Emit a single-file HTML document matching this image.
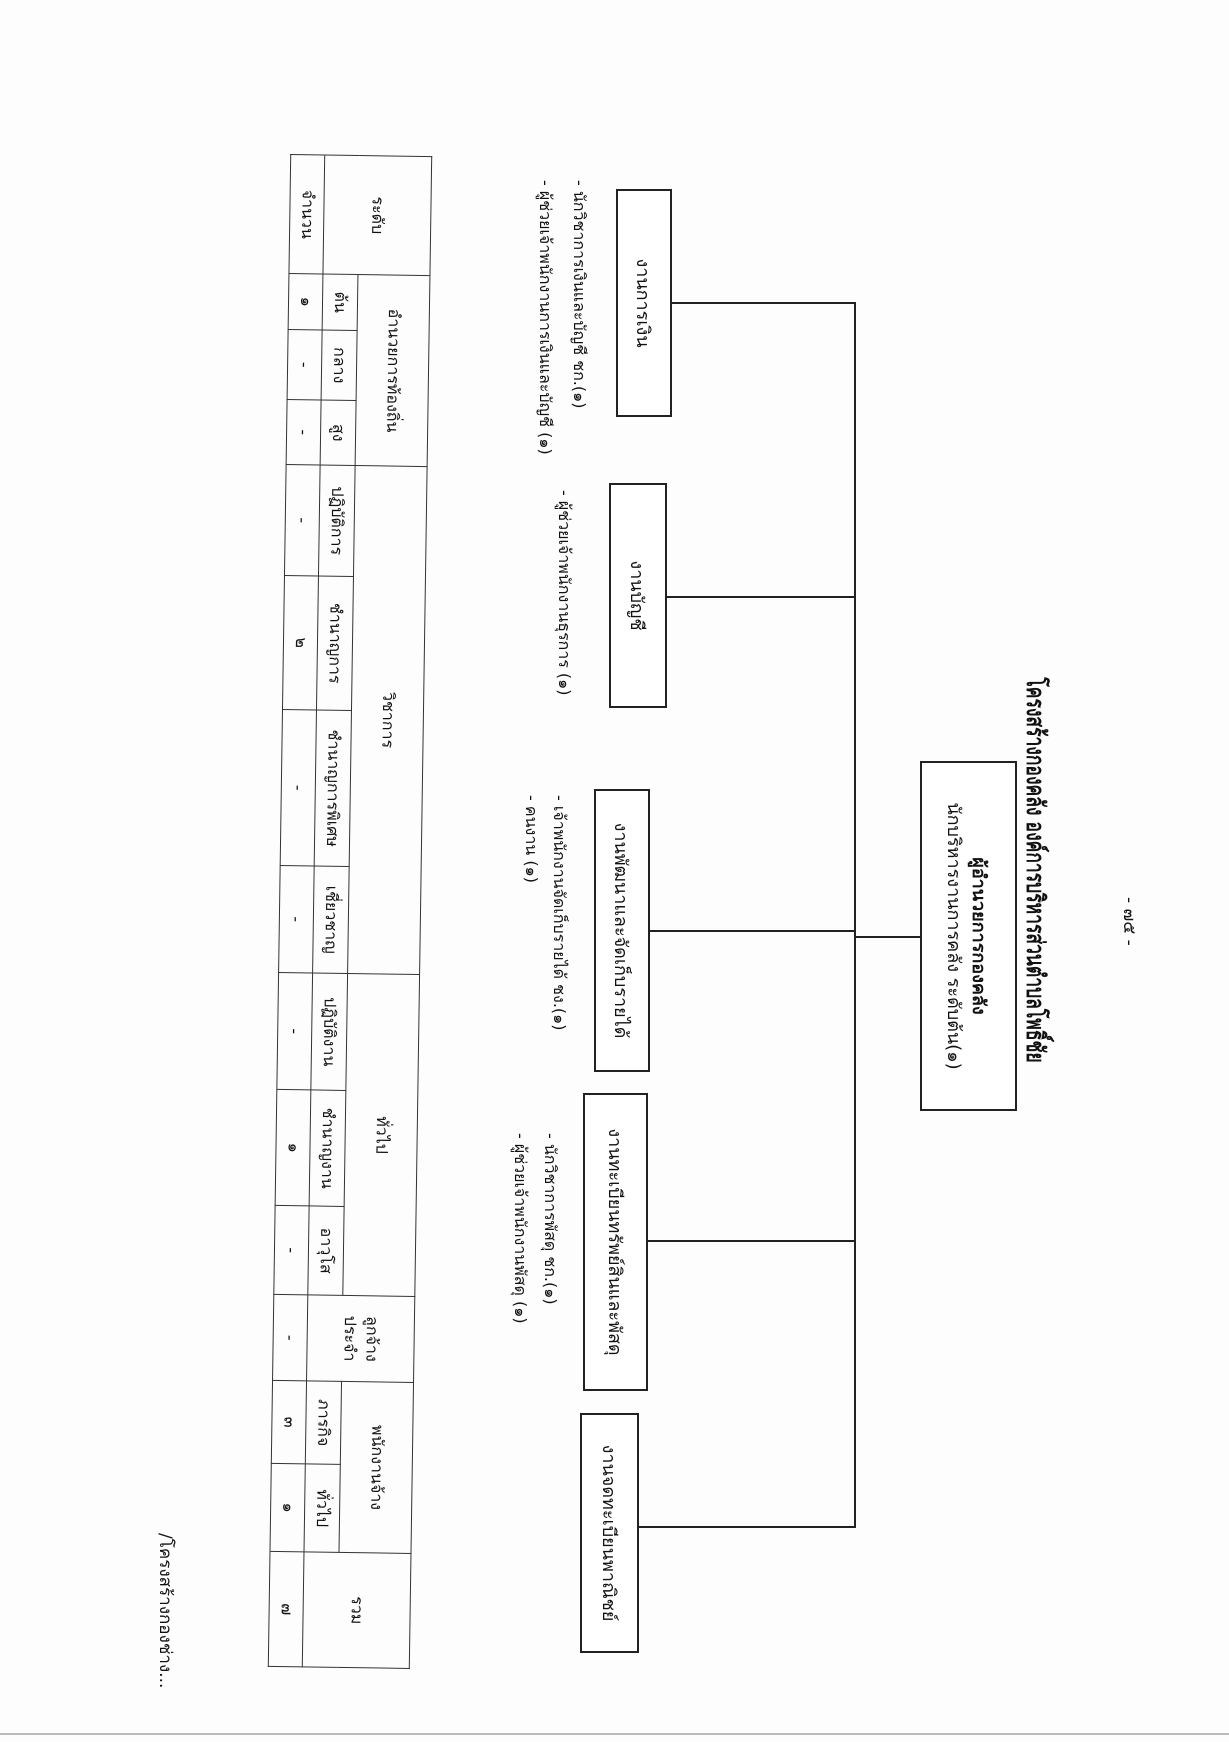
<!DOCTYPE html>
<html><head><meta charset="utf-8"><style>
html,body{margin:0;padding:0;background:#fff;}
#page{position:relative;width:1229px;height:1742px;overflow:hidden;background:#fdfdfd;}
#land{position:absolute;left:0;top:0;width:1742px;height:1229px;transform-origin:0 0;transform:translate(1229px,0) rotate(90deg);font-family:"DejaVu Sans","Liberation Sans",sans-serif;color:#111;}
.a{position:absolute;}
.box{position:absolute;border:2px solid #222;box-sizing:border-box;display:flex;align-items:center;justify-content:center;font-size:18px;background:#fff;}
.h{position:absolute;height:2px;background:#222;}
.v{position:absolute;width:2px;background:#222;}
.note{position:absolute;font-size:16px;white-space:nowrap;line-height:20px;}
table{border-collapse:collapse;table-layout:fixed;}
td{border:1.5px solid #333;text-align:center;font-size:16px;padding:0;overflow:hidden;white-space:nowrap;}
</style></head><body><div id="page">
<div class="a" style="left:0;top:1733px;width:1229px;height:2px;background:#bbb"></div>
<div id="land">
  <div class="a" style="left:897px;top:86px;font-size:17px;">- ๗๕ -</div>
  <div class="a" style="left:500px;top:174px;width:740px;text-align:center;font-size:25px;font-weight:bold;white-space:nowrap;transform:scaleX(0.7);">โครงสร้างกองคลัง องค์การบริหารส่วนตำบลโพธิ์ชัย</div>
  <div class="a" style="left:761px;top:212px;width:350px;height:97px;border:2px solid #222;box-sizing:border-box;background:#fff;text-align:center;font-size:18px;line-height:25px;padding-top:24px;">
    <b>ผู้อำนวยการกองคลัง</b><br>นักบริหารงานการคลัง ระดับต้น(๑)</div>
  <div class="v" style="left:936px;top:309px;height:66px;"></div>
  <div class="h" style="left:302px;top:373px;width:1226px;"></div>
  <div class="v" style="left:302px;top:374px;height:184px;"></div>
  <div class="v" style="left:596px;top:374px;height:189px;"></div>
  <div class="v" style="left:930px;top:374px;height:206px;"></div>
  <div class="v" style="left:1240px;top:374px;height:208px;"></div>
  <div class="v" style="left:1526px;top:374px;height:217px;"></div>
  <div class="box" style="left:189px;top:557px;width:228px;height:56px;">งานการเงิน</div>
  <div class="box" style="left:483px;top:562px;width:225px;height:58px;">งานบัญชี</div>
  <div class="box" style="left:789px;top:579px;width:283px;height:56px;">งานพัฒนาและจัดเก็บรายได้</div>
  <div class="box" style="left:1093px;top:581px;width:298px;height:65px;">งานทะเบียนทรัพย์สินและพัสดุ</div>
  <div class="box" style="left:1413px;top:590px;width:240px;height:59px;">งานจดทะเบียนพาณิชย์</div>
  <div class="note" style="left:180px;top:640px;">- นักวิชาการเงินและบัญชี ชก.(๑)</div>
  <div class="note" style="left:180px;top:674px;">- ผู้ช่วยเจ้าพนักงานการเงินและบัญชี (๑)</div>
  <div class="note" style="left:490px;top:655px;">- ผู้ช่วยเจ้าพนักงานธุรการ (๑)</div>
  <div class="note" style="left:795px;top:660px;">- เจ้าพนักงานจัดเก็บรายได้ ชง.(๑)</div>
  <div class="note" style="left:795px;top:688px;">- คนงาน (๑)</div>
  <div class="note" style="left:1133px;top:669px;">- นักวิชาการพัสดุ ชก.(๑)</div>
  <div class="note" style="left:1133px;top:699px;">- ผู้ช่วยเจ้าพนักงานพัสดุ (๑)</div>
  <table class="a" style="left:155px;top:808px;width:1512px;height:141px;transform:rotate(0.85deg);transform-origin:50% 50%;">
    <colgroup><col style="width:119px"><col style="width:56px"><col style="width:70px"><col style="width:65px"><col style="width:111px"><col style="width:134px"><col style="width:156px"><col style="width:107px"><col style="width:117px"><col style="width:116px"><col style="width:89px"><col style="width:86px"><col style="width:83px"><col style="width:88px"><col style="width:115px"></colgroup>
    <tr style="height:72px"><td rowspan="2">ระดับ</td><td colspan="3">อำนวยการท้องถิ่น</td><td colspan="4">วิชาการ</td><td colspan="3">ทั่วไป</td><td rowspan="2" style="line-height:22px">ลูกจ้าง<br>ประจำ</td><td colspan="2">พนักงานจ้าง</td><td rowspan="2">รวม</td></tr>
    <tr style="height:35px"><td>ต้น</td><td>กลาง</td><td>สูง</td><td>ปฏิบัติการ</td><td>ชำนาญการ</td><td>ชำนาญการพิเศษ</td><td>เชี่ยวชาญ</td><td>ปฏิบัติงาน</td><td>ชำนาญงาน</td><td>อาวุโส</td><td>ภารกิจ</td><td>ทั่วไป</td></tr>
    <tr style="height:34px"><td>จำนวน</td><td>๑</td><td>-</td><td>-</td><td>-</td><td>๒</td><td>-</td><td>-</td><td>-</td><td>๑</td><td>-</td><td>-</td><td>๓</td><td>๑</td><td>๗</td></tr>
  </table>
  <div class="a" style="left:1533px;top:1050px;font-size:17px;white-space:nowrap;">/โครงสร้างกองช่าง...</div>
</div></div></body></html>
